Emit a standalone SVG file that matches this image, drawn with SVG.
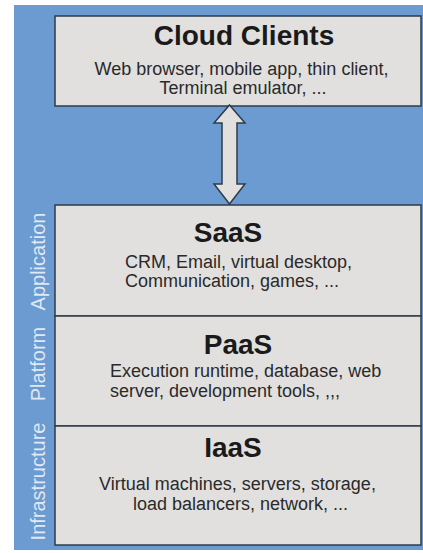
<svg xmlns="http://www.w3.org/2000/svg" width="423" height="553" viewBox="0 0 423 553">
<style>
.bg{fill:#6c9bd2}
.box{fill:#e1e0df;stroke:#2e3b4a;stroke-width:1.5}
.title{font-family:"Liberation Sans",Arial,sans-serif;font-weight:bold;font-size:28px;fill:#1a1a1a}
.sub{font-family:"Liberation Sans",Arial,sans-serif;font-size:18px;fill:#2a2a2a}
.side{font-family:"Liberation Sans",Arial,sans-serif;font-size:20px;fill:#dfe8f3;text-anchor:middle}
.arrow{fill:#e1e0df;stroke:#2e3b4a;stroke-width:1.5;stroke-linejoin:miter}
</style>
<rect width="423" height="553" fill="#ffffff"/>
<rect class="bg" x="14" y="5" width="409" height="545"/>
<g id="side-labels">
<text class="side" transform="translate(45,261.5) rotate(-90)">Application</text>
<text class="side" transform="translate(45,364) rotate(-90)">Platform</text>
<text class="side" transform="translate(45,481.5) rotate(-90)">Infrastructure</text>
</g>
<g id="cloud-clients">
<rect class="box" x="55" y="16" width="366" height="90"/>
<text class="title" x="244" y="45" text-anchor="middle">Cloud Clients</text>
<text class="sub" x="241.5" y="74.5" text-anchor="middle">Web browser, mobile app, thin client,</text>
<text class="sub" x="243" y="93.5" text-anchor="middle">Terminal emulator, ...</text>
</g>
<g id="saas">
<rect class="box" x="55" y="205" width="366" height="111"/>
<text class="title" x="228" y="242" text-anchor="middle">SaaS</text>
<text class="sub" x="125" y="268">CRM, Email, virtual desktop,</text>
<text class="sub" x="125" y="287">Communication, games, ...</text>
</g>
<g id="paas">
<rect class="box" x="55" y="316" width="366" height="110"/>
<text class="title" x="238" y="354" text-anchor="middle">PaaS</text>
<text class="sub" x="110" y="377">Execution runtime, database, web</text>
<text class="sub" x="110" y="397">server, development tools, ,,,</text>
</g>
<g id="iaas">
<rect class="box" x="55" y="426" width="366" height="119"/>
<text class="title" x="233" y="457" text-anchor="middle">IaaS</text>
<text class="sub" x="237.5" y="490" text-anchor="middle">Virtual machines, servers, storage,</text>
<text class="sub" x="240.5" y="510" text-anchor="middle">load balancers, network, ...</text>
</g>
<g id="connectors">
<polygon class="arrow" points="229.5,105 245,123 237,123 237,184 245,184 229.5,204 214,184 222,184 222,123 214,123"/>
</g>
</svg>
